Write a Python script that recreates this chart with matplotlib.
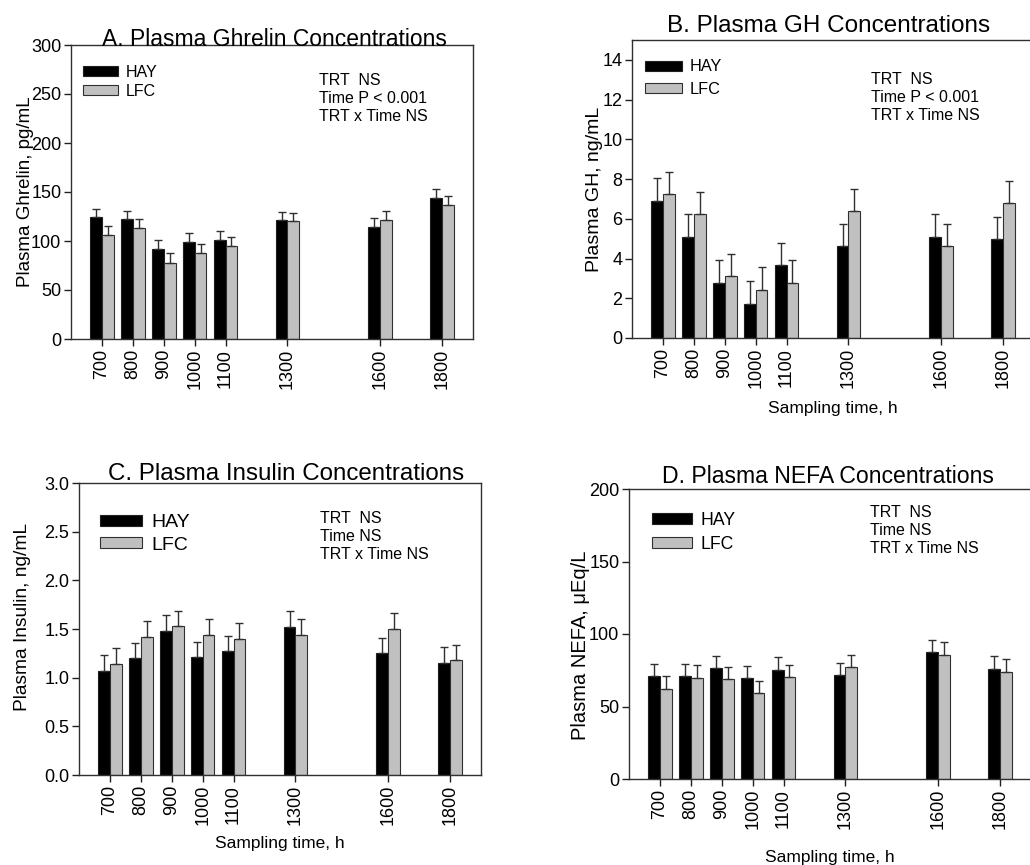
import matplotlib.pyplot as plt
import numpy as np

plt.rcParams['font.family'] = ['Liberation Sans', 'DejaVu Sans']

# sampling times (h)
times = [700, 800, 900, 1000, 1100, 1300, 1600, 1800]
time_labels = ['700', '800', '900', '1000', '1100', '1300', '1600', '1800']

# A. ghrelin, pg/mL
ghrelin_hay = [124, 122, 92, 99, 101, 121, 114, 144]
ghrelin_lfc = [106, 113, 78, 88, 95, 120, 121, 137]
ghrelin_hay_se = [9, 9, 9.5, 9, 9, 9, 9, 9.5]
ghrelin_lfc_se = [9, 9, 9.5, 9, 9, 9, 9.5, 9]

# B. GH, ng/mL
gh_hay = [6.92, 5.09, 2.79, 1.73, 3.66, 4.62, 5.09, 4.99]
gh_lfc = [7.24, 6.24, 3.11, 2.44, 2.79, 6.39, 4.64, 6.79]
gh_hay_se = [1.11, 1.13, 1.13, 1.12, 1.13, 1.12, 1.13, 1.12]
gh_lfc_se = [1.13, 1.12, 1.13, 1.13, 1.13, 1.12, 1.12, 1.13]

# C. insulin, ng/mL
insulin_hay = [1.07, 1.20, 1.48, 1.21, 1.27, 1.52, 1.25, 1.15]
insulin_lfc = [1.14, 1.42, 1.53, 1.44, 1.40, 1.44, 1.50, 1.18]
insulin_hay_se = [0.16, 0.16, 0.16, 0.16, 0.16, 0.16, 0.16, 0.16]
insulin_lfc_se = [0.16, 0.16, 0.16, 0.16, 0.16, 0.16, 0.16, 0.16]

# D. NEFA, uEq/L
nefa_hay = [71.1, 71.1, 76.4, 69.7, 75.5, 71.8, 87.7, 76.2]
nefa_lfc = [62.4, 69.7, 69.0, 59.1, 70.4, 77.1, 85.6, 73.9]
nefa_hay_se = [8.3, 8.1, 8.3, 8.1, 8.5, 8.1, 8.5, 8.5]
nefa_lfc_se = [8.3, 8.6, 7.9, 8.3, 8.5, 8.3, 8.8, 8.7]

W, H = 1030, 865
BAR_W = 38

panels = [
    dict(rect=(71, 45, 402, 294), hay=ghrelin_hay, lfc=ghrelin_lfc,
         hay_se=ghrelin_hay_se, lfc_se=ghrelin_lfc_se,
         ylim=(0, 300), yticks=[0, 50, 100, 150, 200, 250, 300], yfmt='{:.0f}',
         title='A. Plasma Ghrelin Concentrations', tfs=16.5, tpad=-0.5, tx=0.506,
         ylabel='Plasma Ghrelin, pg/mL', ylfs=13.5, ylx=-0.112, yly=0.5,
         xlabel=None, xly=None,
         stats='TRT  NS\nTime P < 0.001\nTRT x Time NS', sx=0.617, sy=0.741,
         leg=(0.030, 0.932), lfs=11.5, lsp=0.22, hl=2.2, hh=0.57),
    dict(rect=(632, 40, 402, 298), hay=gh_hay, lfc=gh_lfc,
         hay_se=gh_hay_se, lfc_se=gh_lfc_se,
         ylim=(0, 15), yticks=[0, 2, 4, 6, 8, 10, 12, 14], yfmt='{:.0f}',
         title='B. Plasma GH Concentrations', tfs=17.5, tpad=5.8, tx=0.49,
         ylabel='Plasma GH, ng/mL', ylfs=14, ylx=-0.094, yly=0.5,
         xlabel='Sampling time, h', xly=-0.235,
         stats='TRT  NS\nTime P < 0.001\nTRT x Time NS', sx=0.594, sy=0.732,
         leg=(0.032, 0.935), lfs=11.7, lsp=0.46, hl=2.27, hh=0.57),
    dict(rect=(79, 483, 402, 292), hay=insulin_hay, lfc=insulin_lfc,
         hay_se=insulin_hay_se, lfc_se=insulin_lfc_se,
         ylim=(0, 3), yticks=[0, 0.5, 1.0, 1.5, 2.0, 2.5, 3.0], yfmt='{:.1f}',
         title='C. Plasma Insulin Concentrations', tfs=17.4, tpad=2.0, tx=0.516,
         ylabel='Plasma Insulin, ng/mL', ylfs=13.8, ylx=-0.141, yly=0.54,
         xlabel='Sampling time, h', xly=-0.233,
         stats='TRT  NS\nTime NS\nTRT x Time NS', sx=0.599, sy=0.740,
         leg=(0.052, 0.893), lfs=14, lsp=0.28, hl=2.16, hh=0.52),
    dict(rect=(629, 489, 402, 290), hay=nefa_hay, lfc=nefa_lfc,
         hay_se=nefa_hay_se, lfc_se=nefa_lfc_se,
         ylim=(0, 200), yticks=[0, 50, 100, 150, 200], yfmt='{:.0f}',
         title='D. Plasma NEFA Concentrations', tfs=16.6, tpad=4.3, tx=0.495,
         ylabel='Plasma NEFA, \u03bcEq/L', ylfs=14.5, ylx=-0.121, yly=0.46,
         xlabel='Sampling time, h', xly=-0.269,
         stats='TRT  NS\nTime NS\nTRT x Time NS', sx=0.6, sy=0.779,
         leg=(0.057, 0.921), lfs=12.7, lsp=0.41, hl=2.27, hh=0.57),
]

fig = plt.figure(figsize=(W / 100, H / 100), dpi=100)

for p in panels:
    x0, top, w, h = p['rect']
    ax = fig.add_axes([x0 / W, 1 - (top + h) / H, w / W, h / H])
    t = np.array(times)
    zeros = np.zeros(len(times))
    err_kw = dict(ecolor='#303030', elinewidth=1, capsize=3, capthick=1)
    ax.bar(t - BAR_W / 2, p['hay'], BAR_W, color='black', edgecolor='#202020',
           linewidth=0.8, yerr=[zeros, p['hay_se']], error_kw=err_kw, label='HAY')
    ax.bar(t + BAR_W / 2, p['lfc'], BAR_W, color='#c0c0c0', edgecolor='#303030',
           linewidth=0.8, yerr=[zeros, p['lfc_se']], error_kw=err_kw, label='LFC')

    ax.set_xlim(600, 1900)
    ax.set_ylim(*p['ylim'])
    ax.set_xticks(times)
    ax.set_xticklabels(time_labels, rotation=90, fontsize=13)
    ax.set_yticks(p['yticks'])
    ax.set_yticklabels([p['yfmt'].format(v) for v in p['yticks']], fontsize=13)
    ax.tick_params(direction='out', length=5, width=1, pad=2, color='#202020')
    for s in ax.spines.values():
        s.set_color('#303030')
        s.set_linewidth(1)

    # y=1.0 given explicitly so matplotlib does not lift the title
    ax.set_title(p['title'], fontsize=p['tfs'], pad=p['tpad'], x=p['tx'], y=1.0)
    ax.set_ylabel(p['ylabel'], fontsize=p['ylfs'], va='center')
    ax.yaxis.set_label_coords(p['ylx'], p['yly'])
    if p['xlabel']:
        ax.set_xlabel(p['xlabel'], fontsize=12.5, va='center')
        ax.xaxis.set_label_coords(0.5, p['xly'])

    # statistics note (baseline of last line)
    ax.text(p['sx'], p['sy'], p['stats'], transform=ax.transAxes, fontsize=11.5,
            va='baseline', ha='left', linespacing=1.25)
    ax.legend(loc='upper left', bbox_to_anchor=p['leg'], frameon=False,
              borderpad=0, borderaxespad=0, fontsize=p['lfs'],
              labelspacing=p['lsp'], handlelength=p['hl'], handleheight=p['hh'],
              handletextpad=0.5)

fig.savefig('out.png', dpi=100)
